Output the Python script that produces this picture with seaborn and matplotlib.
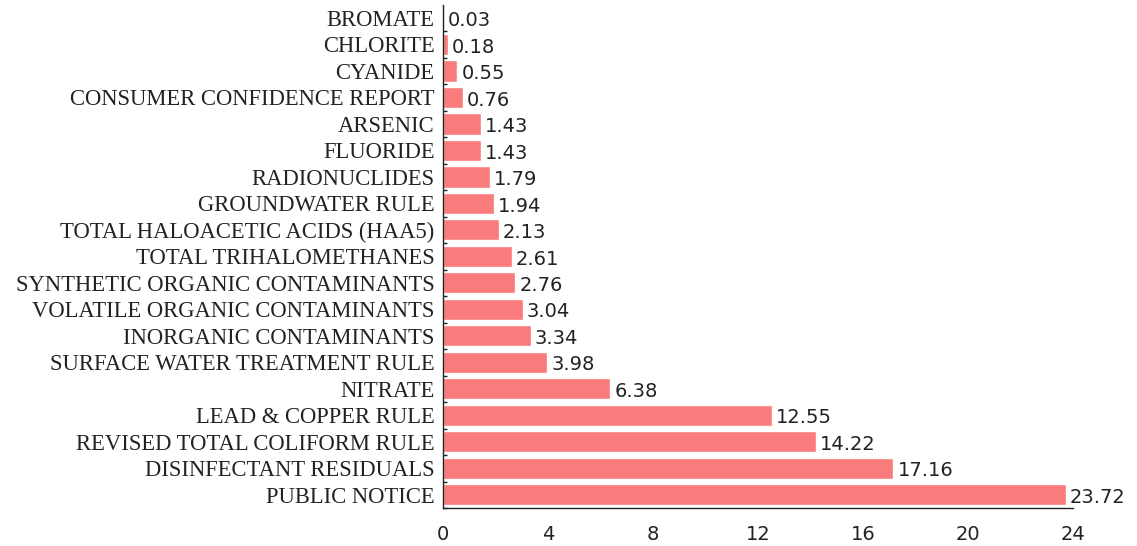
import numpy as np
import pandas as pd
import matplotlib
matplotlib.use("Agg")
import matplotlib.pyplot as plt
import seaborn as sns

# ── Data ──────────────────────────────────────────────────────────────────────

categories = [
    "BROMATE", "CHLORITE", "CYANIDE", "CONSUMER CONFIDENCE REPORT",
    "ARSENIC", "FLUORIDE", "RADIONUCLIDES", "GROUNDWATER RULE",
    "TOTAL HALOACETIC ACIDS (HAA5)", "TOTAL TRIHALOMETHANES",
    "SYNTHETIC ORGANIC CONTAMINANTS", "VOLATILE ORGANIC CONTAMINANTS",
    "INORGANIC CONTAMINANTS", "SURFACE WATER TREATMENT RULE", "NITRATE",
    "LEAD & COPPER RULE", "REVISED TOTAL COLIFORM RULE",
    "DISINFECTANT RESIDUALS", "PUBLIC NOTICE",
]
values = [0.03, 0.18, 0.55, 0.76, 1.43, 1.43, 1.79, 1.94, 2.13, 2.61,
          2.76, 3.04, 3.34, 3.98, 6.38, 12.55, 14.22, 17.16, 23.72]
x_ticks = [0, 4, 8, 12, 16, 20, 24]

BAR_COLOR = "#F97B7B"
TEXT_COLOR = "#222222"

sns.set_theme(style="white")
plt.rcParams.update({
    "figure.facecolor": "white",
    "axes.facecolor": "white",
})

df = pd.DataFrame({"category": categories, "value": values})

fig = plt.figure(figsize=(11.37, 5.46), dpi=100)
left, right = 443 / 1137, 1073 / 1137
top, bottom = 1 - 4.75 / 546, 1 - 508 / 546
ax = fig.add_axes([left, bottom, right - left, top - bottom])

sns.barplot(data=df, y="category", x="value", color=BAR_COLOR,
            saturation=1, width=0.8, ax=ax, orient="h")

ax.set_xlim(0, 24)
ax.set_ylim(len(categories) - 0.5, -0.5)
ax.set_xlabel("")
ax.set_ylabel("")

for s in ["top", "right"]:
    ax.spines[s].set_visible(False)
for s in ["left", "bottom"]:
    ax.spines[s].set_visible(True)
    ax.spines[s].set_color(TEXT_COLOR)
    ax.spines[s].set_linewidth(1.0)

ax.set_xticks(x_ticks)
ax.set_xticklabels([str(t) for t in x_ticks], fontsize=14,
                   family=["DejaVu Sans"], color=TEXT_COLOR)
ax.tick_params(axis="x", length=0, pad=12)
ax.tick_params(axis="y", length=0, pad=6)
for lbl in ax.get_yticklabels():
    lbl.set_fontfamily("Liberation Serif")
    lbl.set_fontsize(16.3)
    lbl.set_color(TEXT_COLOR)

# small boundary ticks on the left axis
ax.set_yticks(np.arange(len(categories)) + 0.5, minor=True)
ax.tick_params(axis="y", which="minor", length=3, width=1, color=TEXT_COLOR,
               direction="in", left=True)

for i, v in enumerate(values):
    ax.text(v + 0.15, i + 0.1, f"{v:.2f}", va="center", ha="left",
            fontsize=14, family=["DejaVu Sans"], color=TEXT_COLOR)

fig.savefig("out.png", dpi=100)
